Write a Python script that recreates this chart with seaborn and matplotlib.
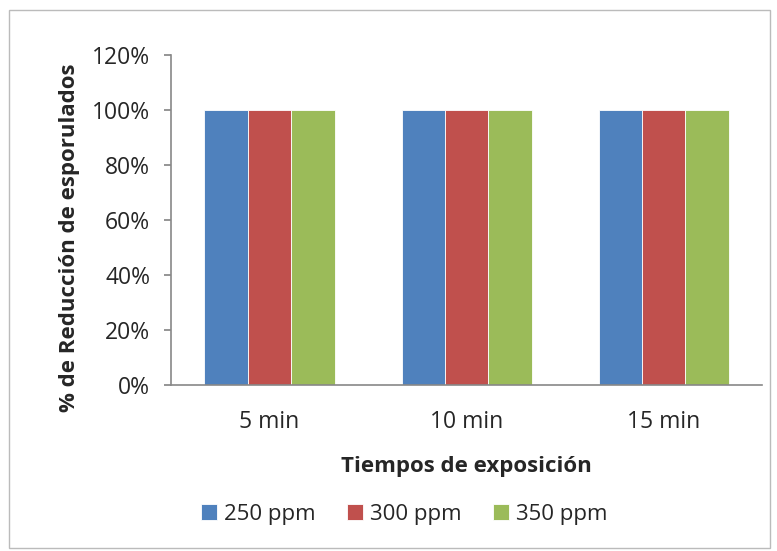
import matplotlib
matplotlib.use("Agg")
import matplotlib.pyplot as plt
import seaborn as sns
import pandas as pd
from matplotlib.patches import Rectangle
from matplotlib.ticker import FuncFormatter

categories = ["5 min", "10 min", "15 min"]
series_names = ["250 ppm", "300 ppm", "350 ppm"]
values_250 = [1.0, 1.0, 1.0]
values_300 = [1.0, 1.0, 1.0]
values_350 = [1.0, 1.0, 1.0]
colors = ["#4F81BD", "#C0504D", "#9BBB59"]
y_ticks = [0, 0.2, 0.4, 0.6, 0.8, 1.0, 1.2]

rows = []
for name, vals in zip(series_names, [values_250, values_300, values_350]):
    for c, v in zip(categories, vals):
        rows.append({"Tiempo": c, "Serie": name, "Valor": v})
df = pd.DataFrame(rows)

sns.set_theme(style="white")
plt.rcParams["font.family"] = ["Open Sans", "DejaVu Sans"]

fig = plt.figure(figsize=(7.77, 5.51), dpi=100)
ax = fig.add_axes([0.220, 0.301, 0.761, 0.599])

sns.barplot(data=df, x="Tiempo", y="Valor", hue="Serie", palette=colors,
            order=categories, hue_order=series_names, width=0.66, saturation=1,
            edgecolor="white", linewidth=0.6, ax=ax)

ax.set_ylim(0, 1.2)
ax.set_yticks(y_ticks)
ax.yaxis.set_major_formatter(FuncFormatter(lambda v, p: f"{v*100:.0f}%"))
ax.tick_params(axis="y", labelsize=16.5, length=5, color="#888888", pad=10, left=True)
ax.tick_params(axis="x", labelsize=16.5, length=0, pad=18)
for s in ["top", "right"]:
    ax.spines[s].set_visible(False)
for s in ["left", "bottom"]:
    ax.spines[s].set_color("#888888")
    ax.spines[s].set_linewidth(1.2)

ax.set_xlabel("Tiempos de exposición", fontsize=16, fontweight="bold", labelpad=16)
ax.set_ylabel("% de Reducción de esporulados", fontsize=16, fontweight="bold")
ax.yaxis.set_label_coords(-0.154, 0.448)

leg = ax.legend(loc="center", bbox_to_anchor=(0.52, 0.067), bbox_transform=fig.transFigure,
                ncol=3, frameon=False, fontsize=16, handlelength=0.75, handleheight=0.75,
                handletextpad=0.3, columnspacing=1.4)

fig.patches.append(Rectangle((0.011, 0.006), 0.98, 0.976, transform=fig.transFigure,
                             fill=False, edgecolor="#BBBBBB", linewidth=1.0))

fig.savefig("out.png", dpi=100)
